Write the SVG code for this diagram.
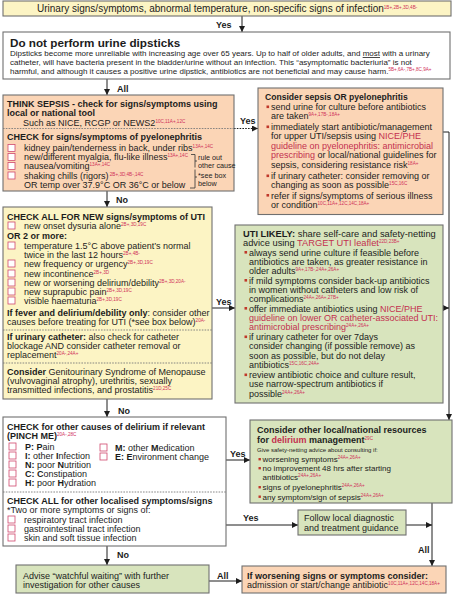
<svg xmlns="http://www.w3.org/2000/svg" width="454" height="598" viewBox="0 0 454 598">
<defs>
<marker id="ah" viewBox="0 0 6 6" refX="6" refY="3" markerWidth="6" markerHeight="6" markerUnits="userSpaceOnUse" orient="auto">
<path d="M0,0 L6,3 L0,6 z" fill="#1e1e1e"/>
</marker>
<style>
text{font-family:"Liberation Sans",Arial,sans-serif;font-size:9px;fill:#1c1c1c}
.b{font-weight:bold}
.r{fill:#c3304f}
.s{font-size:4.6px;fill:#d0305a;font-weight:normal}
.sm{font-size:7.2px}
.box{stroke:#707070;stroke-width:1.1}
.y{fill:#fcf4c4}
.o{fill:#fbd5b6}
.g{fill:#d8e4bd}
.w{fill:#ffffff}
.dash{stroke:#7a7a7a;stroke-width:0.9;stroke-dasharray:1.6 1.2;fill:none}
.cb{fill:#fff;stroke:#d0496e;stroke-width:0.8}
.bu{fill:#c0392b}
.c{stroke:#1e1e1e;stroke-width:1;fill:none}
.lbl{font-weight:bold;font-size:9px}
</style>
</defs>

<g id="connectors">
<line class="c" x1="242" y1="16" x2="242" y2="32" marker-end="url(#ah)"/>
<line class="c" x1="107" y1="79" x2="107" y2="95" marker-end="url(#ah)"/>
<line class="c" x1="234" y1="128.5" x2="258" y2="128.5" stroke-dasharray="1.6 1.2" marker-end="url(#ah)"/>
<line class="c" x1="107" y1="191" x2="107" y2="207" marker-end="url(#ah)"/>
<line class="c" x1="212" y1="308" x2="235" y2="308" marker-end="url(#ah)"/>
<line class="c" x1="107" y1="399" x2="107" y2="417" marker-end="url(#ah)"/>
<path class="c" d="M443,132 H449 V420" marker-end="url(#ah)"/>
<line class="c" x1="443" y1="308" x2="449" y2="308" marker-end="url(#ah)"/>
<line class="c" x1="226" y1="460" x2="250" y2="460" marker-end="url(#ah)"/>
<line class="c" x1="226" y1="525" x2="298" y2="525" marker-end="url(#ah)"/>
<line class="c" x1="406" y1="525" x2="432" y2="525" marker-end="url(#ah)"/>
<line class="c" x1="432" y1="503" x2="432" y2="566" marker-end="url(#ah)"/>
<line class="c" x1="107" y1="546" x2="107" y2="565" marker-end="url(#ah)"/>
<line class="c" x1="209" y1="581" x2="242" y2="581" marker-end="url(#ah)"/>
<text class="lbl" x="216" y="28">Yes</text>
<text class="lbl" x="117" y="92">All</text>
<text class="lbl" x="240" y="124">Yes</text>
<text class="lbl" x="116" y="203">No</text>
<text class="lbl" x="216" y="305">Yes</text>
<text class="lbl" x="118" y="414">No</text>
<text class="lbl" x="230" y="457">Yes</text>
<text class="lbl" x="243" y="521">Yes</text>
<text class="lbl" x="418" y="553">All</text>
<text class="lbl" x="117" y="558">No</text>
<text class="lbl" x="217" y="579">All</text>
</g>

<g id="n-top">
<rect class="box y" x="3" y="1" width="448" height="15"/>
<text x="37" y="12" style="font-size:10px">Urinary signs/symptoms, abnormal temperature, non-specific signs of infection<tspan class="s" dy="-3.5">1B+,2B+,3D,4B-</tspan></text>
</g>

<g id="n-dipsticks">
<rect class="box w" x="3" y="32" width="447" height="47"/>
<text class="b" x="10" y="47" style="font-size:11.7px">Do not perform urine dipsticks</text>
<text x="10" y="56" style="font-size:8px">Dipsticks become more unreliable with increasing age over 65 years. Up to half of older adults, and <tspan text-decoration="underline">most</tspan> with a urinary</text>
<text x="10" y="65" style="font-size:8px">catheter, will have bacteria present in the bladder/urine without an infection. This “asymptomatic bacteriuria” is not</text>
<text x="10" y="74" style="font-size:8px">harmful, and although it causes a positive urine dipstick, antibiotics are not beneficial and may cause harm.<tspan class="s" dy="-3">5B+,6A-,7B+,8C,9A+</tspan></text>
</g>

<g id="n-sepsis-check">
<rect class="box o" x="3" y="95" width="231" height="96"/>
<text class="b" x="7" y="107">THINK SEPSIS - check for signs/symptoms using</text>
<text class="b" x="7" y="116">local or national tool</text>
<text x="23" y="125.5">Such as NICE, RCGP or NEWS2<tspan class="s" dy="-3">10C,11A+,12C</tspan></text>
<line class="dash" x1="3" y1="128.5" x2="234" y2="128.5"/>
<text class="b" x="7" y="140">CHECK for signs/symptoms of pyelonephritis</text>
<rect class="cb" x="8" y="144.5" width="7" height="7"/>
<rect class="cb" x="8" y="153.5" width="7" height="7"/>
<rect class="cb" x="8" y="162.5" width="7" height="7"/>
<rect class="cb" x="8" y="172" width="7" height="7"/>
<text x="24" y="151">kidney pain/tenderness in back, under ribs<tspan class="s" dy="-3">13A+,14C</tspan></text>
<text x="24" y="160">new/different myalgia, flu-like illness<tspan class="s" dy="-3">13A+,14C</tspan></text>
<text x="24" y="169">nausea/vomiting<tspan class="s" dy="-3">13A+,14C</tspan></text>
<text x="24" y="178.5">shaking chills (rigors)<tspan class="s" dy="-3"> 2B+,3D,4B-,14C</tspan></text>
<text x="24" y="188">OR temp over 37.9°C OR 36°C or below</text>
<path d="M191,154.5 H195 V167.5 M195,161 H197" stroke="#333" stroke-width="0.8" fill="none"/>
<path d="M195,169.5 V188 H190 M195,177 H197" stroke="#333" stroke-width="0.8" fill="none"/>
<text class="sm" x="198" y="160">rule out</text>
<text class="sm" x="198" y="168">other cause</text>
<text class="sm" x="198" y="178">*see box</text>
<text class="sm" x="198" y="185.5">below</text>
</g>

<g id="n-uti-check">
<rect class="box y" x="3" y="207" width="209" height="192"/>
<text class="b" x="7" y="220">CHECK ALL FOR NEW signs/symptoms of UTI</text>
<rect class="cb" x="8" y="222" width="7" height="7"/>
<text x="24" y="229">new onset dysuria alone<tspan class="s" dy="-3">2B+,3D,19C</tspan></text>
<text class="b" x="7" y="239">OR 2 or more:</text>
<rect class="cb" x="8" y="242" width="7" height="7"/>
<text x="24" y="249">temperature 1.5°C above patient’s normal</text>
<text x="24" y="258">twice in the last 12 hours<tspan class="s" dy="-3">2B+,4B-</tspan></text>
<rect class="cb" x="8" y="260" width="7" height="7"/>
<text x="24" y="267">new frequency or urgency<tspan class="s" dy="-3">2B+,3D,19C</tspan></text>
<rect class="cb" x="8" y="270" width="7" height="7"/>
<text x="24" y="277">new incontinence<tspan class="s" dy="-3">2B+,3D</tspan></text>
<rect class="cb" x="8" y="279" width="7" height="7"/>
<text x="24" y="286">new or worsening delirium/debility<tspan class="s" dy="-3">2B+,3D,20A-</tspan></text>
<rect class="cb" x="8" y="288" width="7" height="7"/>
<text x="24" y="295">new suprapubic pain<tspan class="s" dy="-3">2B+,3D,19C</tspan></text>
<rect class="cb" x="8" y="297" width="7" height="7"/>
<text x="24" y="304">visible haematuria<tspan class="s" dy="-3">2B+,3D,19C</tspan></text>
<text x="7" y="316"><tspan class="b">If fever and delirium/debility only</tspan>: consider other</text>
<text x="7" y="325">causes before treating for UTI (*see box below)<tspan class="s" dy="-3">20A-</tspan></text>
<line class="dash" x1="3" y1="330" x2="212" y2="330"/>
<text x="7" y="340"><tspan class="b">If urinary catheter:</tspan> also check for catheter</text>
<text x="7" y="349">blockage AND consider catheter removal or</text>
<text x="7" y="358">replacement<tspan class="s" dy="-3">20A-,24A+</tspan></text>
<line class="dash" x1="3" y1="363" x2="212" y2="363"/>
<text x="7" y="375"><tspan class="b">Consider</tspan> Genitourinary Syndrome of Menopause</text>
<text x="7" y="384">(vulvovaginal atrophy), urethritis, sexually</text>
<text x="7" y="393">transmitted infections, and prostatitis<tspan class="s" dy="-3">21D,25C</tspan></text>
</g>

<g id="n-pinch">
<rect class="box w" x="3" y="417" width="223" height="129"/>
<text class="b" x="7" y="430">CHECK for other causes of delirium if relevant</text>
<text class="b" x="7" y="439">(PINCH ME)<tspan class="s" dy="-3">20A-,28C</tspan></text>
<rect class="cb" x="9" y="443" width="7" height="7"/>
<rect class="cb" x="9" y="452" width="7" height="7"/>
<rect class="cb" x="9" y="461" width="7" height="7"/>
<rect class="cb" x="9" y="470" width="7" height="7"/>
<rect class="cb" x="9" y="479" width="7" height="7"/>
<text x="25" y="450"><tspan class="b">P:</tspan> <tspan class="b">P</tspan>ain</text>
<text x="25" y="459"><tspan class="b">I:</tspan> other <tspan class="b">I</tspan>nfection</text>
<text x="25" y="468"><tspan class="b">N:</tspan> poor <tspan class="b">N</tspan>utrition</text>
<text x="25" y="477"><tspan class="b">C:</tspan> <tspan class="b">C</tspan>onstipation</text>
<text x="25" y="486"><tspan class="b">H:</tspan> poor <tspan class="b">H</tspan>ydration</text>
<rect class="cb" x="100" y="444" width="7" height="7"/>
<rect class="cb" x="100" y="453" width="7" height="7"/>
<text x="115" y="451"><tspan class="b">M:</tspan> other <tspan class="b">M</tspan>edication</text>
<text x="115" y="460"><tspan class="b">E:</tspan> <tspan class="b">E</tspan>nvironment change</text>
<line class="dash" x1="3" y1="492" x2="226" y2="492"/>
<text class="b" x="7" y="504">CHECK ALL for other localised symptoms/signs</text>
<text x="7" y="513">*Two or more symptoms or signs of:</text>
<rect class="cb" x="8" y="516" width="7" height="7"/>
<rect class="cb" x="8" y="525" width="7" height="7"/>
<rect class="cb" x="8" y="534" width="7" height="7"/>
<text x="24" y="523">respiratory tract infection</text>
<text x="24" y="532">gastrointestinal tract infection</text>
<text x="24" y="541">skin and soft tissue infection</text>
</g>

<g id="n-advise">
<rect class="box g" x="16" y="565" width="193" height="28"/>
<text x="23" y="579">Advise “watchful waiting” with further</text>
<text x="23" y="588">investigation for other causes</text>
</g>

<g id="n-consider-sepsis">
<rect class="box o" x="258" y="88" width="185" height="126.5"/>
<text class="b" x="265" y="99.5" style="font-size:8.6px">Consider sepsis OR pyelonephritis</text>
<rect class="bu" x="266.5" y="105.5" width="2.6" height="2.6"/>
<text x="271" y="110">send urine for culture before antibiotics</text>
<text x="271" y="119.4">are taken<tspan class="s" dy="-3">9A+,17B-,18A+</tspan></text>
<rect class="bu" x="266.5" y="125.5" width="2.6" height="2.6"/>
<text x="271" y="130">immediately start antibiotic/management</text>
<text x="271" y="139.4">for upper UTI/sepsis using <tspan class="r">NICE/PHE</tspan></text>
<text x="271" y="148.8" class="r">guideline on pyelonephritis: antimicrobial</text>
<text x="271" y="158.2"><tspan class="r">prescribing</tspan> or local/national guidelines for</text>
<text x="271" y="167.6">sepsis, considering resistance risk<tspan class="s" dy="-3">18A+</tspan></text>
<rect class="bu" x="266.5" y="174.5" width="2.6" height="2.6"/>
<text x="271" y="179">if urinary catheter: consider removing or</text>
<text x="271" y="188.4">changing as soon as possible<tspan class="s" dy="-3">15C,16C</tspan></text>
<rect class="bu" x="266.5" y="194" width="2.6" height="2.6"/>
<text x="271" y="198.5">refer if signs/symptoms of serious illness</text>
<text x="271" y="207.9">or condition<tspan class="s" dy="-3">10C,11A+,12C,14C,18A+</tspan></text>
</g>

<g id="n-uti-likely">
<rect class="box g" x="235" y="225" width="208" height="178"/>
<text x="243" y="236.5" style="font-size:9.3px"><tspan class="b">UTI LIKELY:</tspan> share self-care and safety-netting</text>
<text x="243" y="246" style="font-size:9.3px">advice using <tspan class="r">TARGET UTI leaflet</tspan><tspan class="s" dy="-3">22D,23B+</tspan></text>
<rect class="bu" x="244.5" y="251" width="2.6" height="2.6"/>
<text x="249" y="255.5">always send urine culture if feasible before</text>
<text x="249" y="264.8">antibiotics are taken, as greater resistance in</text>
<text x="249" y="274">older adults<tspan class="s" dy="-3">9A+,17B-,24A+,26A+</tspan></text>
<rect class="bu" x="244.5" y="279" width="2.6" height="2.6"/>
<text x="249" y="283.5">if mild symptoms consider back-up antibiotics</text>
<text x="249" y="292.8">in women without catheters and low risk of</text>
<text x="249" y="302">complications<tspan class="s" dy="-3">24A+,26A+,27B+</tspan></text>
<rect class="bu" x="244.5" y="307" width="2.6" height="2.6"/>
<text x="249" y="311.5">offer immediate antibiotics using <tspan class="r">NICE/PHE</tspan></text>
<text x="249" y="320.8" class="r">guideline on lower OR catheter-associated UTI:</text>
<text x="249" y="330.2"><tspan class="r">antimicrobial prescribing</tspan><tspan class="s" dy="-3">24A+,26A+</tspan></text>
<rect class="bu" x="244.5" y="335.5" width="2.6" height="2.6"/>
<text x="249" y="340">if urinary catheter for over 7days</text>
<text x="249" y="349.4">consider changing (if possible remove) as</text>
<text x="249" y="358.8">soon as possible, but do not delay</text>
<text x="249" y="368">antibiotics<tspan class="s" dy="-3">15C,16C,24A+</tspan></text>
<rect class="bu" x="244.5" y="373.5" width="2.6" height="2.6"/>
<text x="249" y="378">review antibiotic choice and culture result,</text>
<text x="249" y="387.3">use narrow-spectrum antibiotics if</text>
<text x="249" y="396.6">possible<tspan class="s" dy="-3">24A+,26A+</tspan></text>
</g>

<g id="n-consider-other">
<rect class="box g" x="250" y="420" width="202" height="83"/>
<text class="b" x="257" y="433">Consider other local/national resources</text>
<text class="b" x="257" y="443">for <tspan class="r">delirium</tspan> management<tspan class="s" dy="-3">29C</tspan></text>
<text x="257" y="452" style="font-size:6px">Give safety-netting advice about consulting if:</text>
<rect class="bu" x="258.5" y="458" width="2.4" height="2.4"/>
<rect class="bu" x="258.5" y="467" width="2.4" height="2.4"/>
<rect class="bu" x="258.5" y="486" width="2.4" height="2.4"/>
<rect class="bu" x="258.5" y="495.5" width="2.4" height="2.4"/>
<text x="262.5" y="462" style="font-size:8px">worsening symptoms<tspan class="s" dy="-3">24A+,26A+</tspan></text>
<text x="262.5" y="471" style="font-size:8px">no improvement 48 hrs after starting</text>
<text x="262.5" y="480" style="font-size:8px">antibiotics<tspan class="s" dy="-3">24A+,26A+</tspan></text>
<text x="262.5" y="490" style="font-size:8px">signs of pyelonephritis<tspan class="s" dy="-3">24A+,26A+</tspan></text>
<text x="262.5" y="499.5" style="font-size:8px">any symptom/sign of sepsis<tspan class="s" dy="-3">24A+,26A+</tspan></text>
</g>

<g id="n-follow">
<rect class="box g" x="298" y="510" width="108" height="25"/>
<text x="304" y="521">Follow local diagnostic</text>
<text x="304" y="531">and treatment guidance</text>
</g>

<g id="n-worsening">
<rect class="box o" x="242" y="566" width="204" height="27"/>
<text class="b" x="247" y="579">If worsening signs or symptoms consider:</text>
<text x="247" y="588">admission or start/change antibiotic<tspan class="s" dy="-3">10C,11A+,12C,14C,18A+</tspan></text>
</g>
</svg>
